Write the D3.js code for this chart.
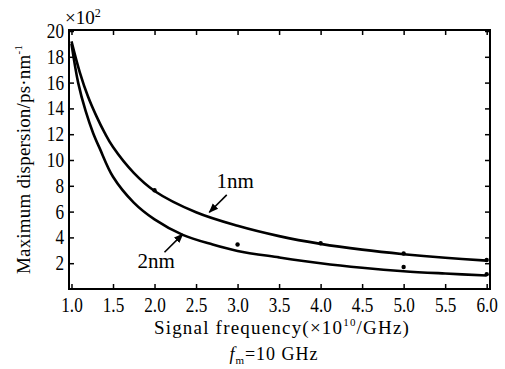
<!DOCTYPE html>
<html><head><meta charset="utf-8">
<script src="https://cdn.jsdelivr.net/npm/d3@7"></script>
<style>body{margin:0;background:#fff}svg{display:block}text{font-family:"Liberation Serif","Times New Roman",serif;fill:#000}</style>
</head><body>
<script>
const xTicks = [1.0,1.5,2.0,2.5,3.0,3.5,4.0,4.5,5.0,5.5,6.0];
const yTicks = [2,4,6,8,10,12,14,16,18,20];
const freq1 = [1.0,1.1,1.2,1.3,1.4,1.5,1.75,2.0,2.5,3.0,3.5,4.0,4.5,5.0,5.5,6.0];
const disp1 = [19.2,16.8,14.9,13.4,12.1,11.0,9.0,7.6,5.95,4.9,4.1,3.5,3.05,2.7,2.42,2.2];
const freq2 = [1.0,1.08,1.17,1.26,1.34,1.5,1.75,2.0,2.34,2.7,3.0,3.5,4.0,4.5,5.0,5.5,6.0];
const disp2 = [19.0,16.0,13.8,12.1,10.9,8.7,6.7,5.4,4.2,3.45,2.95,2.45,2.0,1.65,1.38,1.2,1.05];
const dots1x = [2.0,4.0,5.0,6.0], dots1y = [7.65,3.55,2.75,2.25];
const dots2x = [3.0,5.0,6.0], dots2y = [3.45,1.7,1.15];
const labels = ["1nm","2nm"];

const W=505,H=369, L=69,R=490,T=30,B=289;
const SX=0.86;
const svg=d3.select("body").append("svg").attr("width",W).attr("height",H);
const x=d3.scaleLinear().domain([0.97,6.04]).range([L,R]);
const y=d3.scaleLinear().domain([0,20]).range([B,T+1]);

svg.append("rect").attr("x",L).attr("y",T).attr("width",R-L).attr("height",B-T)
  .attr("fill","none").attr("stroke","#000").attr("stroke-width",2);

const ax=(g)=>{g.selectAll(".domain").remove();g.selectAll("line").attr("stroke","#000").attr("stroke-width",1.5);};
svg.append("g").attr("transform",`translate(0,${B})`)
  .call(d3.axisBottom(x).tickValues(xTicks).tickFormat(d3.format(".1f")).tickSizeInner(-5).tickSizeOuter(0).tickPadding(9))
  .call(ax).selectAll("text").attr("font-size",20).attr("transform",`scale(${SX},1)`);
svg.append("g").attr("transform",`translate(0,${T})`)
  .call(d3.axisTop(x).tickValues(xTicks).tickFormat("").tickSizeInner(-5).tickSizeOuter(0)).call(ax);
svg.append("g").attr("transform",`translate(${L},0)`)
  .call(d3.axisLeft(y).tickValues(yTicks).tickFormat(d3.format("d")).tickSizeInner(-5).tickSizeOuter(0).tickPadding(4))
  .call(ax).selectAll("text").attr("font-size",20).attr("x",-5/SX).attr("transform",`scale(${SX},1)`);
svg.append("g").attr("transform",`translate(${R},0)`)
  .call(d3.axisRight(y).tickValues(yTicks).tickFormat("").tickSizeInner(-5).tickSizeOuter(0)).call(ax);

const line=d3.line().x(d=>x(d[0])).y(d=>y(d[1])).curve(d3.curveCatmullRom);
svg.append("path").datum(d3.zip(freq1,disp1)).attr("d",line).attr("fill","none").attr("stroke","#000").attr("stroke-width",2.6);
svg.append("path").datum(d3.zip(freq2,disp2)).attr("d",line).attr("fill","none").attr("stroke","#000").attr("stroke-width",2.6);
svg.selectAll(".d1").data(d3.zip(dots1x,dots1y)).join("circle").attr("cx",d=>x(d[0])).attr("cy",d=>y(d[1])).attr("r",2.2).attr("fill","#000");
svg.selectAll(".d2").data(d3.zip(dots2x,dots2y)).join("circle").attr("cx",d=>x(d[0])).attr("cy",d=>y(d[1])).attr("r",2.2).attr("fill","#000");

svg.append("defs").append("marker").attr("id","ah").attr("viewBox","0 0 10 10").attr("refX",9).attr("refY",5)
  .attr("markerWidth",6).attr("markerHeight",6).attr("orient","auto")
  .append("path").attr("d","M0,1 L10,5 L0,9 z").attr("fill","#000");
function annot(label,lx,ly,px,py,fx,fy){
  svg.append("text").attr("x",x(lx)).attr("y",y(ly)).attr("text-anchor","middle").attr("font-size",21).text(label);
  svg.append("line").attr("x1",x(fx)).attr("y1",y(fy)).attr("x2",x(px)).attr("y2",y(py))
    .attr("stroke","#000").attr("stroke-width",1.6).attr("marker-end","url(#ah)");
}
annot(labels[0],2.97,7.85,2.66,5.95,2.87,7.3);
annot(labels[1],2.02,1.65,2.34,4.25,2.12,2.85);

svg.append("text").attr("x",65).attr("y",24).attr("font-size",19)
  .html('×10<tspan dy="-7" font-size="12">2</tspan>');
svg.append("text").attr("transform",`translate(30,${(T+B)/2+0}) rotate(-90)`).attr("text-anchor","middle").attr("font-size",19)
  .attr("letter-spacing",0.2)
  .html('Maximum dispersion/ps·nm<tspan dy="-8" font-size="11">-1</tspan>');
svg.append("text").attr("x",282).attr("y",334).attr("text-anchor","middle").attr("font-size",19).attr("letter-spacing",1.2)
  .html('Signal frequency(×10<tspan dy="-8" font-size="11">10</tspan><tspan dy="8">/GHz)</tspan>');
svg.append("text").attr("x",274).attr("y",360).attr("text-anchor","middle").attr("font-size",18).attr("letter-spacing",1)
  .html('<tspan font-style="italic">f</tspan><tspan dy="4" font-size="11">m</tspan><tspan dy="-4">=10 GHz</tspan>');
</script>
</body></html>
